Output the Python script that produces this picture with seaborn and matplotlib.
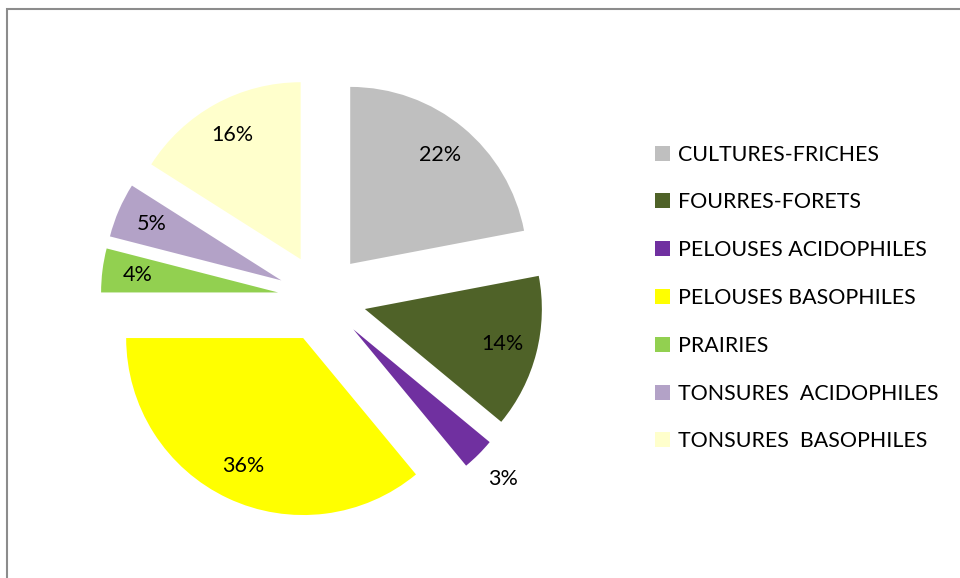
import matplotlib
matplotlib.use("Agg")
import matplotlib.pyplot as plt
import seaborn as sns
from matplotlib.patches import Rectangle
import numpy as np

# data
categories = ["CULTURES-FRICHES", "FOURRES-FORETS", "PELOUSES ACIDOPHILES",
              "PELOUSES BASOPHILES", "PRAIRIES", "TONSURES  ACIDOPHILES",
              "TONSURES  BASOPHILES"]
shares = [22, 14, 3, 36, 4, 5, 16]
colors = ["#BFBFBF", "#4F6228", "#7030A0", "#FFFF00", "#92D050", "#B3A2C7", "#FFFFCC"]

sns.set_theme(style="white")
plt.rcParams["font.family"] = ["Lato", "DejaVu Sans"]

fig = plt.figure(figsize=(9.6, 5.78), dpi=100)
ax = fig.add_axes([56.5 / 960, 14.5 / 578, 531 / 960, 531 / 578])

wedges, texts, autotexts = ax.pie(
    shares, colors=colors, startangle=90, counterclock=False,
    explode=[0.25] * len(shares), autopct="%1.0f%%", pctdistance=0.8,
    wedgeprops=dict(linewidth=0), textprops=dict(fontsize=15.5, color="black"))

# the small slice has its label outside, like in the original
w = wedges[2]
ang = np.deg2rad((w.theta1 + w.theta2) / 2)
cx, cy = w.center
autotexts[2].set_position((cx + 1.2 * np.cos(ang), cy + 1.2 * np.sin(ang)))

ax.set_xlim(-1.5, 1.5)
ax.set_ylim(-1.5, 1.5)
ax.set_aspect("equal")
ax.axis("off")

leg = fig.legend(wedges, categories, loc="center left",
                 bbox_to_anchor=(636 / 960, 1 - 298 / 578), frameon=False,
                 fontsize=15.4, handlelength=0.7, handleheight=0.7,
                 handletextpad=0.35, labelspacing=1.3, labelcolor="black")

# grey frame around the chart area
fig.add_artist(Rectangle((7 / 960, -0.1), 1.2, 1 - 9 / 578 + 0.1,
                         transform=fig.transFigure, fill=False,
                         edgecolor="#8C8C8C", linewidth=1.5))

fig.savefig("out.png", dpi=100)
